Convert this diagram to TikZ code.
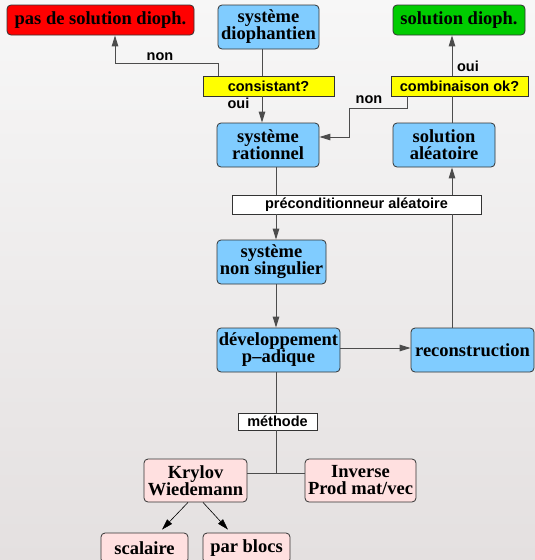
\documentclass[tikz,border=0pt]{standalone}
\usepackage{fontspec}
\setmainfont{Liberation Serif}
\setsansfont{Liberation Sans}
\usetikzlibrary{arrows.meta}

\definecolor{bgtop}{HTML}{F7F7F7}
\definecolor{bgbot}{HTML}{E4E0E0}
\definecolor{bleu}{HTML}{80CCFF}
\definecolor{rouge}{HTML}{FF0000}
\definecolor{vert}{HTML}{00CC00}
\definecolor{jaune}{HTML}{FFFF00}
\definecolor{rose}{HTML}{FFE0E0}

\begin{document}
\begin{tikzpicture}[x=1pt,y=-1pt]
   \tikzstyle{box}=[draw=black!80,line width=0.8pt,rounded corners=4pt,align=center,inner sep=1pt,font=\fontsize{18.5}{17}\selectfont\bfseries]
   \tikzstyle{test}=[draw=black!80,line width=0.8pt,align=center,inner sep=1pt,font=\fontsize{14.5}{16}\selectfont\sffamily\bfseries]
   \tikzstyle{lab}=[inner sep=0pt,font=\fontsize{14.5}{16}\selectfont\sffamily\bfseries]
   \tikzstyle{wire}=[draw=black!70,line width=0.9pt]
   \tikzstyle{arr}=[wire,-{Triangle[length=11pt,width=6.5pt]}]

\shade[top color=bgtop,bottom color=bgbot] (0,0) rectangle (535,560);
\useasboundingbox (0,0) rectangle (535,560);

\node[box,fill=rouge,minimum width=187pt,minimum height=30pt] (nosol) at (100.5,20) {pas de solution dioph.};
\node[box,fill=bleu,minimum width=101pt,minimum height=44pt] (diophant) at (268.5,27) {système\\diophantien};
\node[box,fill=vert,minimum width=132pt,minimum height=30pt] (sol) at (459,20) {solution dioph.};
\node[test,fill=jaune,minimum width=131pt,minimum height=20pt] (consist) at (268.5,86) {consistant?};
\node[test,fill=jaune,minimum width=137pt,minimum height=20pt] (combi) at (459.5,86) {combinaison ok?};
\node[box,fill=bleu,minimum width=102pt,minimum height=44pt] (rational) at (268,145) {système\\rationnel};
\node[box,fill=bleu,minimum width=102pt,minimum height=44pt] (random) at (444,145) {solution\\aléatoire};
\node[test,fill=white,minimum width=249pt,minimum height=19pt] (precond) at (356.5,204.5) {préconditionneur aléatoire};
\node[box,fill=bleu,minimum width=109pt,minimum height=44pt] (nonsing) at (271.5,262) {système\\non singulier};
\node[box,fill=bleu,minimum width=123pt,minimum height=44pt] (padic) at (278.5,350) {développement\\p--adique};
\node[box,fill=bleu,minimum width=123pt,minimum height=44pt] (recon) at (472.5,350) {reconstruction};
\node[test,fill=white,minimum width=79pt,minimum height=17pt] (method) at (277.5,421.5) {méthode};
\node[box,fill=rose,minimum width=103pt,minimum height=43pt] (krylov) at (195.5,480.5) {Krylov\\Wiedemann};
\node[box,fill=rose,minimum width=111pt,minimum height=43pt] (inverse) at (360.5,480.5) {Inverse\\Prod mat/vec};
\node[box,fill=rose,minimum width=87pt,minimum height=30pt] (scal) at (144.5,548) {scalaire};
\node[box,fill=rose,minimum width=87pt,minimum height=30pt] (blocs) at (246.5,548) {par blocs};

\node[lab] (non1) at (160,56.5) {non};
\node[lab] (oui1) at (238.5,103) {oui};
\node[lab] (oui2) at (468,66.5) {oui};
\node[lab] (non2) at (369,100) {non};

\coordinate (axA) at (262,0);
\coordinate (axB) at (276,0);
\coordinate (axC) at (452,0);
\coordinate (kink) at (349,108);
\coordinate (split) at (276,473);

\draw[wire] (diophant.south -| axA) -- (consist.north -| axA);
\draw[arr] (consist.south -| axA) -- (rational.north -| axA);
\draw[arr] ([xshift=-50.5pt]consist.north) -- ++(0,-12) -| ([xshift=14.5pt]nosol.south);
\draw[wire] (random.north -| axC) -- (combi.south -| axC);
\draw[arr] (combi.north -| axC) -- (sol.south -| axC);
\draw[arr] ([xshift=-52.5pt]combi.south) |- (kink) |- ([yshift=8pt]rational.east);
\draw[wire] (rational.south -| axB) -- (precond.north -| axB);
\draw[arr] (precond.south -| axB) -- (nonsing.north -| axB);
\draw[arr] (nonsing.south -| axB) -- (padic.north -| axB);
\draw[arr] ([yshift=2pt]padic.east) -- ([yshift=2pt]recon.west);
\draw[wire] (recon.north -| axC) -- (precond.south -| axC);
\draw[arr] (precond.north -| axC) -- (random.south -| axC);
\draw[wire] (padic.south -| axB) -- (method.north -| axB);
\draw[wire] (method.south -| axB) -- (split);
\draw[wire] (split -| krylov.east) -- (split -| inverse.west);
\draw[arr,draw=black,line width=0.6pt] ([xshift=-7.5pt]krylov.south) -- ([xshift=17.5pt,yshift=3pt]scal.north);
\draw[arr,draw=black,line width=0.6pt] ([xshift=7.5pt]krylov.south) -- ([xshift=-18.5pt,yshift=3pt]blocs.north);

\end{tikzpicture}
\end{document}
